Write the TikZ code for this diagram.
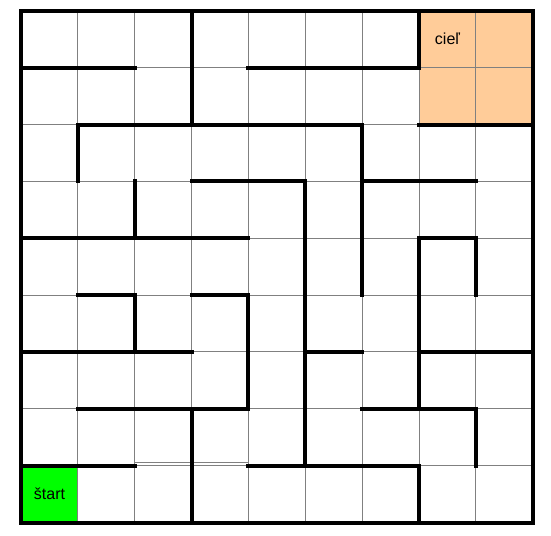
\documentclass[tikz,border=0pt]{standalone}
\usepackage{fontspec}
\setmainfont{Liberation Sans}
\definecolor{goalfill}{HTML}{FFCC99}
\definecolor{startfill}{HTML}{00FF00}
\begin{document}
\begin{tikzpicture}[x=1cm, y=1cm,
		wall/.style={line width=2pt, line cap=rect},
		cell/.style={gray, line width=0.5pt},
		label/.style={font=\fontsize{8}{9}\selectfont}]
			\useasboundingbox (-0.37,-0.23) rectangle (9.32,9.19);
			\fill[goalfill] (7,7) rectangle (9,9);
			\fill[startfill] (0,0) rectangle (1,1);
			\draw[cell] (0,0) grid (9,9);
			\draw[cell] (2,1.055) -- (4,1.055);
			\foreach \a/\b/\y in {0/2/8, 4/7/8, 1/6/7, 7/9/7, 3/5/6, 6/8/6, 0/4/5, 7/8/5, 1/2/4, 3/4/4, 0/3/3, 5/6/3, 7/9/3, 1/4/2, 6/8/2, 0/2/1, 4/7/1} \draw[wall] (\a,\y) -- (\b,\y);
			\foreach \x/\a/\b in {1/7/6, 2/6/5, 2/4/3, 3/9/7, 3/2/0, 4/4/2, 5/6/1, 6/7/4, 7/9/8, 7/5/2, 7/1/0, 8/5/4, 8/2/1} \draw[wall] (\x,\a) -- (\x,\b);
			\draw[wall] (0,0) rectangle (9,9);
			\node[label] (goal) at (7.5,8.5) {cieľ};
			\node[label] (start) at (0.5,0.5) {štart};
		\end{tikzpicture}
\end{document}
